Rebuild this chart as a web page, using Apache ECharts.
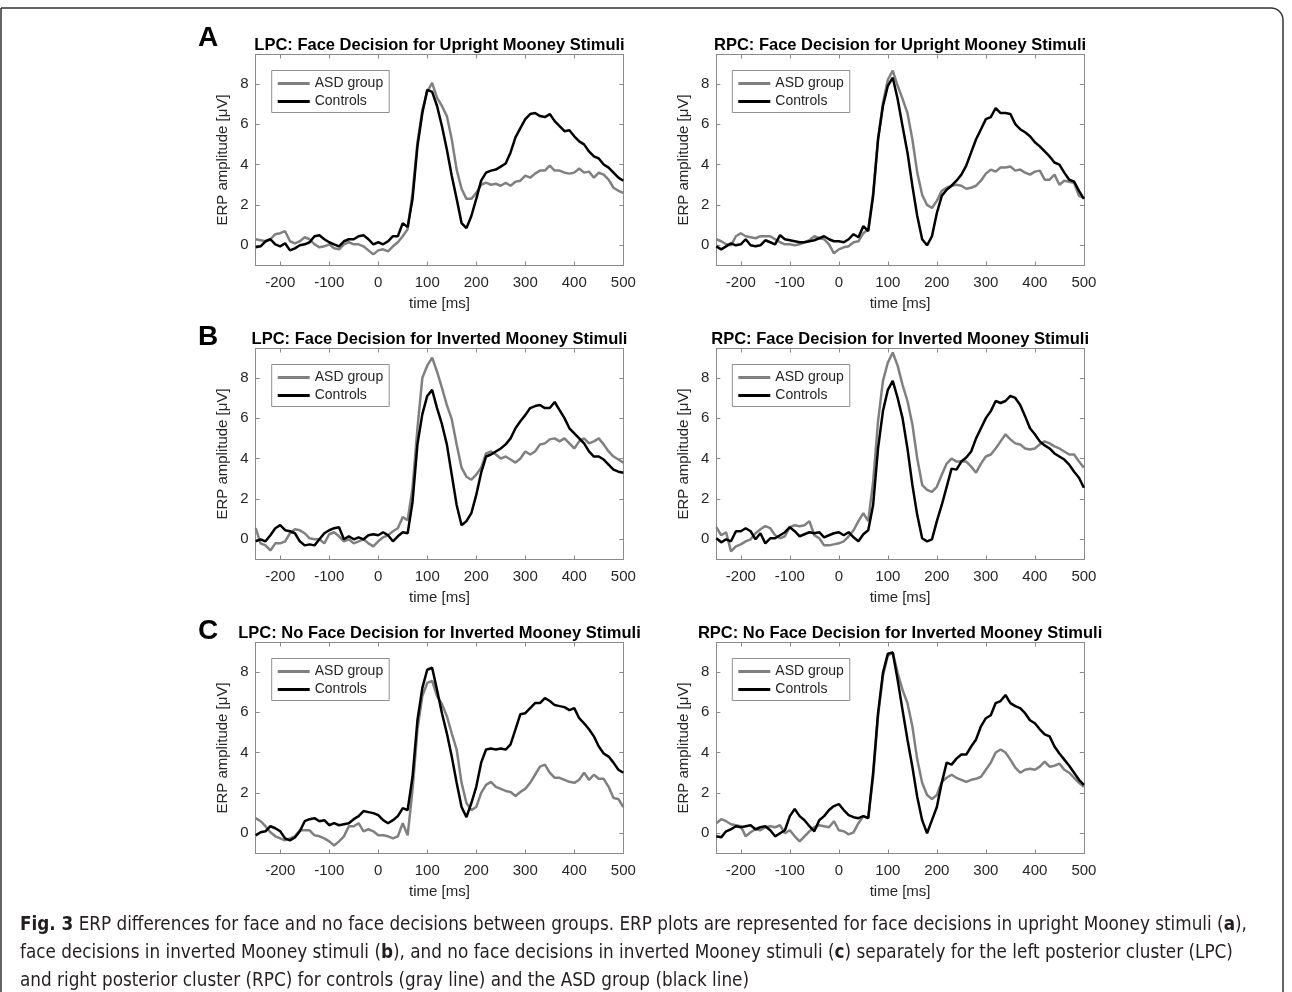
<!DOCTYPE html>
<html>
<head>
<meta charset="utf-8">
<script src="https://cdn.jsdelivr.net/npm/echarts@6/dist/echarts.min.js"></script>
<style>
html,body{margin:0;padding:0;background:#fff;}
#main{width:1292px;height:992px;}
</style>
</head>
<body>
<div id="main"></div>
<script>
// time samples (ms)
const T = [-250,-240,-230,-220,-210,-200,-190,-180,-170,-160,
-150,-140,-130,-120,-110,-100,-90,-80,-70,-60,
-50,-40,-30,-20,-10,0,10,20,30,40,
50,60,70,80,90,100,110,120,130,140,
150,160,170,180,190,200,210,220,230,240,
250,260,270,280,290,300,310,320,330,340,
350,360,370,380,390,400,410,420,430,440,
450,460,470,480,490,500];

const X_TICKS = [-200,-100,0,100,200,300,400,500];
const Y_TICKS = [0,2,4,6,8];

const TITLES = [
 'LPC: Face Decision for Upright Mooney Stimuli',
 'RPC: Face Decision for Upright Mooney Stimuli',
 'LPC: Face Decision for Inverted Mooney Stimuli',
 'RPC: Face Decision for Inverted Mooney Stimuli',
 'LPC: No Face Decision for Inverted Mooney Stimuli',
 'RPC: No Face Decision for Inverted Mooney Stimuli'
];
const LETTERS = ['A','B','C'];
const SERIES_NAMES = ['ASD group','Controls'];

const A_L_ASD = [0.3,0.25,0.2,0.3,0.55,0.6,0.7,0.2,0.1,0.2,
0.4,0.3,0.05,-0.1,-0.05,0.05,-0.15,-0.2,0.05,0.15,
0.05,0.05,-0.05,-0.25,-0.45,-0.25,-0.2,-0.3,-0.05,0.15,
0.45,0.8,2.6,5.1,6.7,7.6,8.05,7.3,6.9,6.4,
5.25,3.75,2.8,2.3,2.3,2.6,3.0,3.1,3.0,3.05,
2.95,3.1,2.95,3.15,3.2,3.45,3.35,3.55,3.7,3.7,
3.95,3.7,3.7,3.6,3.55,3.6,3.8,3.6,3.65,3.35,
3.6,3.5,3.25,2.85,2.7,2.6];
const A_L_CTL = [-0.1,-0.05,0.2,0.3,0.05,-0.05,0.1,-0.25,-0.15,0,
0.05,0.15,0.45,0.5,0.3,0.15,0.05,-0.05,0.2,0.3,
0.3,0.45,0.5,0.3,0.05,0.15,0.05,0.2,0.45,0.45,
1.1,0.9,2.3,4.9,6.55,7.7,7.6,6.9,5.9,4.75,
3.45,2.3,1.1,0.85,1.45,2.3,3.2,3.6,3.7,3.75,
3.9,4.05,4.6,5.35,5.8,6.25,6.5,6.55,6.4,6.35,
6.5,6.15,5.9,5.65,5.7,5.4,5.15,5.0,4.65,4.4,
4.3,4.0,3.85,3.6,3.35,3.2];
const A_R_ASD = [0.3,0.2,0.05,0,0.45,0.6,0.45,0.4,0.35,0.45,
0.45,0.45,0.3,0.15,0.05,0.05,0,0.05,0.15,0.25,
0.45,0.35,0.3,0.05,-0.4,-0.2,-0.1,-0.05,0.15,0.2,
0.6,0.8,2.6,5.25,7.05,8.2,8.65,7.9,7.25,6.55,
5.25,3.6,2.5,2.0,1.85,2.2,2.7,2.85,2.95,3.0,
2.95,2.8,2.85,2.95,3.2,3.55,3.75,3.65,3.85,3.85,
3.9,3.7,3.75,3.6,3.5,3.65,3.7,3.25,3.25,3.5,
3.0,3.2,3.15,3.1,2.45,2.35];
const A_R_CTL = [-0.05,-0.2,-0.05,0.1,0,0.05,0.3,0,-0.05,0,
0.25,0.15,0.05,0.5,0.3,0.25,0.2,0.15,0.15,0.2,
0.25,0.35,0.45,0.3,0.2,0.2,0.15,0.3,0.55,0.4,
0.95,0.7,2.45,5.25,6.9,7.9,8.3,7.25,5.9,4.6,
2.95,1.45,0.3,0,0.45,1.6,2.45,2.75,2.95,3.2,
3.5,3.95,4.6,5.25,5.75,6.25,6.35,6.8,6.55,6.55,
6.5,6.0,5.75,5.6,5.4,5.1,4.9,4.65,4.4,4.1,
4.0,3.6,3.25,3.15,2.7,2.3];
const B_L_ASD = [0.55,-0.2,-0.3,-0.55,-0.2,-0.2,-0.1,0.3,0.5,0.45,
0.3,0.05,0,0,-0.2,0.25,0.35,0.15,-0.1,0,
-0.2,-0.1,0,-0.2,-0.35,-0.1,0.1,0.2,0.4,0.55,
1.1,0.95,2.55,5.5,8.0,8.6,9.0,8.3,7.5,6.65,
5.95,4.7,3.55,3.1,2.95,3.2,3.55,4.25,4.35,4.2,
4.0,4.1,3.95,3.8,4.0,4.35,4.2,4.35,4.7,4.75,
4.95,5.0,4.85,5.0,4.75,4.5,4.85,5.0,4.75,4.85,
5.0,4.7,4.35,4.1,3.95,3.8];
const B_L_CTL = [-0.1,0,-0.1,0.2,0.55,0.7,0.45,0.4,0.3,-0.1,
-0.3,-0.25,-0.3,0,0.3,0.45,0.55,0.6,0,0.15,
0,0.1,0,0.2,0.25,0.2,0.35,0.2,-0.1,0.15,
0.35,0.3,1.85,4.7,6.2,7.1,7.4,6.5,5.7,4.7,
3.2,1.7,0.7,0.9,1.3,2.2,3.3,4.1,4.2,4.35,
4.5,4.7,5.0,5.5,5.85,6.15,6.5,6.6,6.65,6.5,
6.5,6.8,6.4,6.0,5.5,5.25,5.0,4.75,4.35,4.1,
4.1,3.95,3.7,3.45,3.35,3.3];
const B_R_ASD = [0.6,0.2,0.35,-0.6,-0.35,-0.25,-0.1,0,0.3,0.5,
0.65,0.55,0.2,0.05,0.15,0.6,0.7,0.65,0.7,0.9,
0.2,0.05,-0.3,-0.3,-0.25,-0.2,-0.1,0.15,0.45,0.9,
1.3,0.9,2.85,5.85,7.85,8.75,9.25,8.6,7.65,6.85,
5.7,4.0,2.7,2.45,2.35,2.6,3.2,3.75,4.0,3.85,
3.85,3.85,3.6,3.3,3.75,4.1,4.2,4.5,4.85,5.2,
4.95,4.75,4.7,4.5,4.45,4.5,4.7,4.85,4.75,4.6,
4.5,4.35,4.2,4.2,3.85,3.55];
const B_R_CTL = [0.05,-0.15,0,-0.1,0.4,0.4,0.55,0.4,0,0.3,
-0.2,0.05,0.05,0.2,0.35,0.6,0.4,0.15,0.25,0.35,
0.3,0.35,0.1,0.2,0.3,0.35,0.2,0.35,0.1,-0.1,
0.25,0.45,1.7,4.5,6.35,7.4,7.85,7.0,6.0,4.5,
2.7,1.2,0.05,-0.1,0,0.9,1.7,2.6,3.5,3.45,
3.85,4.05,4.35,5.0,5.5,6.0,6.35,6.85,6.75,6.85,
7.1,7.0,6.65,6.1,5.5,5.2,4.85,4.65,4.5,4.25,
4.1,3.95,3.7,3.35,3.05,2.55];
const C_L_ASD = [0.75,0.6,0.35,0.05,-0.15,-0.25,-0.35,-0.25,-0.15,0.15,
0.15,0.15,-0.1,-0.15,-0.25,-0.4,-0.6,-0.4,-0.15,0.35,
0.35,0.5,0.1,0.2,0.1,-0.1,-0.1,-0.15,-0.25,-0.15,
0.5,-0.1,2.15,5.15,6.8,7.45,7.55,6.8,6.4,5.8,
4.95,4.15,2.5,1.5,1.15,1.3,2.0,2.4,2.55,2.3,
2.2,2.1,2.05,1.85,2.05,2.2,2.5,2.9,3.3,3.4,
3.0,2.75,2.75,2.65,2.55,2.5,2.65,3.0,2.65,2.9,
2.7,2.7,2.3,1.75,1.7,1.3];
const C_L_CTL = [-0.1,0.05,0.1,0.35,0.25,0.1,-0.25,-0.35,-0.2,0.1,
0.6,0.7,0.75,0.6,0.65,0.4,0.5,0.4,0.45,0.5,
0.7,0.85,1.1,1.05,1.0,0.9,0.65,0.5,0.65,0.85,
1.25,1.15,2.8,5.6,7.2,8.1,8.2,7.1,5.95,4.95,
3.8,2.5,1.3,0.8,1.5,2.3,3.5,4.15,4.2,4.15,
4.2,4.15,4.4,5.15,5.9,5.95,6.2,6.45,6.45,6.7,
6.55,6.35,6.3,6.25,6.1,6.2,5.7,5.45,5.15,4.8,
4.3,3.95,3.8,3.5,3.15,3.0];
const C_R_ASD = [0.5,0.7,0.6,0.45,0.4,0.35,-0.15,0.05,0.2,0.15,
0.3,0.35,0.3,0.4,0,0.15,-0.15,-0.4,-0.15,0.1,
0.3,0.4,0.35,0.3,0.6,0.15,0.1,-0.05,0.05,0.5,
0.85,0.75,2.8,5.8,7.8,8.8,8.95,7.95,7.1,6.45,
5.3,3.65,2.5,1.9,1.7,1.9,2.55,2.75,2.9,2.75,
2.65,2.55,2.65,2.7,2.8,3.15,3.5,4.0,4.15,4.0,
3.65,3.25,3.0,3.15,3.2,3.15,3.3,3.55,3.3,3.35,
3.45,3.15,3.0,2.75,2.5,2.3];
const C_R_CTL = [-0.15,-0.2,0.1,0.2,0.35,0.3,0.35,0.4,0.2,0.3,
0.35,0.15,-0.15,0,0.15,0.85,1.2,0.85,0.65,0.35,
0.1,0.65,0.85,1.15,1.35,1.45,1.15,0.9,0.8,0.75,
0.85,0.75,3.0,5.95,7.95,8.9,8.95,7.6,6.1,4.65,
3.3,1.8,0.65,0,0.65,1.3,2.5,3.5,3.4,3.7,
3.9,3.9,4.3,4.65,5.3,5.7,5.85,6.45,6.55,6.85,
6.45,6.3,6.2,5.95,5.6,5.45,5.15,4.9,4.8,4.3,
3.95,3.65,3.35,3.0,2.65,2.4];

const PANEL_DATA = [
 [A_L_ASD, A_L_CTL], [A_R_ASD, A_R_CTL],
 [B_L_ASD, B_L_CTL], [B_R_ASD, B_R_CTL],
 [C_L_ASD, C_L_CTL], [C_R_ASD, C_R_CTL]
];

const CAPTION = [
 '{b|Fig. 3} ERP differences for face and no face decisions between groups. ERP plots are represented for face decisions in upright Mooney stimuli ({b|a}),',
 'face decisions in inverted Mooney stimuli ({b|b}), and no face decisions in inverted Mooney stimuli ({b|c}) separately for the left posterior cluster (LPC)',
 'and right posterior cluster (RPC) for controls (gray line) and the ASD group (black line)'
];

// ---- layout / style ----
const FONT = '"Liberation Sans", Arial, Helvetica, sans-serif';
const COL_LEFT = [255.7, 716.3];
const GW = 367.6;
const ROW_TOP = [54.5, 348.5, 642.5];
const GH = 211;
const LETTER_Y = [38.3, 337.5, 631.7];
const AX_COLOR = '#8a8a8a';
const LBL_COLOR = '#262626';
const COLORS = ['#808080', '#000000'];

const grids = [], xAxes = [], yAxes = [], series = [], legends = [], graphics = [];

function axisCommon() {
  return {
    axisLine: {show: true, onZero: false, lineStyle: {color: AX_COLOR, width: 1}},
    axisTick: {show: true, inside: true, length: 4, lineStyle: {color: AX_COLOR, width: 1}},
    splitLine: {show: false}
  };
}

PANEL_DATA.forEach((pd, i) => {
  const c = i % 2, r = Math.floor(i / 2);
  grids.push({left: COL_LEFT[c], top: ROW_TOP[r], width: GW, height: GH, containLabel: false});
  xAxes.push(Object.assign({
    type: 'value', gridIndex: i, position: 'bottom', min: -250, max: 500, splitNumber: 8,
    axisLabel: {show: true, fontSize: 15, fontFamily: FONT, color: LBL_COLOR, margin: 10,
      showMinLabel: false, showMaxLabel: true,
      formatter: v => (X_TICKS.indexOf(v) >= 0 ? String(v) : '')},
    name: 'time [ms]', nameLocation: 'middle', nameGap: 31,
    nameTextStyle: {fontSize: 15, fontFamily: FONT, color: LBL_COLOR}
  }, axisCommon()));
  xAxes.push(Object.assign({
    type: 'value', gridIndex: i, position: 'top', min: -250, max: 500, splitNumber: 8,
    axisLabel: {show: false}
  }, axisCommon()));
  yAxes.push(Object.assign({
    type: 'value', gridIndex: i, position: 'left', min: -1, max: 9.45, splitNumber: 5,
    axisLabel: {show: true, fontSize: 15, fontFamily: FONT, color: LBL_COLOR, margin: 7,
      showMinLabel: false, showMaxLabel: false,
      formatter: v => (Y_TICKS.indexOf(v) >= 0 ? String(v) : '')},
    name: 'ERP amplitude [\u03bcV]', nameLocation: 'middle', nameGap: 25, nameRotate: 90,
    nameTextStyle: {fontSize: 15, fontFamily: FONT, color: LBL_COLOR}
  }, axisCommon()));
  yAxes.push(Object.assign({
    type: 'value', gridIndex: i, position: 'right', min: -1, max: 9.45, splitNumber: 5,
    axisLabel: {show: false}
  }, axisCommon()));

  pd.forEach((vals, s) => {
    series.push({
      type: 'line', name: SERIES_NAMES[s], xAxisIndex: 2 * i, yAxisIndex: 2 * i,
      data: T.map((t, k) => [t, vals[k]]),
      showSymbol: false, symbol: 'none', clip: true, smooth: false,
      lineStyle: {width: 2.5, color: COLORS[s]}, itemStyle: {color: COLORS[s]},
      z: 2 + s
    });
  });

  legends.push({
    show: true, orient: 'vertical', left: COL_LEFT[c] + 16, top: ROW_TOP[r] + 16,
    data: SERIES_NAMES, icon: 'rect', itemWidth: 32, itemHeight: 3, itemGap: 4,
    padding: [6, 6, 4, 6], borderColor: '#8f8f8f', borderWidth: 1, backgroundColor: '#fff',
    selectedMode: false,
    textStyle: {fontSize: 14, lineHeight: 14, fontFamily: FONT, color: LBL_COLOR}
  });

  graphics.push({
    type: 'text', x: COL_LEFT[c] + GW / 2, y: ROW_TOP[r] - 9, z: 10,
    style: {text: TITLES[i], align: 'center', verticalAlign: 'middle',
      fontSize: 16.5, fontWeight: 'bold', fontFamily: FONT, fill: '#000'}
  });
});

LETTERS.forEach((L, r) => {
  graphics.push({
    type: 'text', x: 208, y: LETTER_Y[r], z: 10,
    style: {text: L, align: 'center', verticalAlign: 'middle',
      fontSize: 28, fontWeight: 'bold', fontFamily: FONT, fill: '#000'}
  });
});

// caption font sized to fit width of first line
const CAP_FONT = '"Liberation Sans Narrow", "DejaVu Sans Condensed", "Liberation Sans", sans-serif';
let capSize = 20;
try {
  const ctx = document.createElement('canvas').getContext('2d');
  ctx.font = '20px ' + CAP_FONT;
  const plain = CAPTION[0].replace(/\{b\|([^}]*)\}/g, '$1');
  const w = ctx.measureText(plain).width;
  if (w > 0) capSize = Math.max(13, Math.min(22, 20 * 1218 / w));
} catch (e) {}
const CAP_Y = [925, 953, 981];
CAPTION.forEach((line, k) => {
  graphics.push({
    type: 'text', x: 20, y: CAP_Y[k], z: 10,
    style: {text: line, verticalAlign: 'middle', align: 'left',
      fontSize: capSize, fontFamily: CAP_FONT, fill: '#231f20',
      rich: {b: {fontWeight: 'bold', fontSize: capSize, fontFamily: CAP_FONT, fill: '#231f20'}}}
  });
});

// frame
graphics.push({
  type: 'rect', z: 0, silent: true,
  shape: {x: 1, y: 8, width: 1282, height: 1020, r: [0, 12, 0, 0]},
  style: {fill: 'none', stroke: '#333', lineWidth: 1.5}
});

const chart = echarts.init(document.getElementById('main'), null, {renderer: 'canvas'});
chart.setOption({
  animation: false,
  backgroundColor: '#fff',
  grid: grids, xAxis: xAxes, yAxis: yAxes, series: series,
  legend: legends, graphic: graphics
});
</script>
</body>
</html>
